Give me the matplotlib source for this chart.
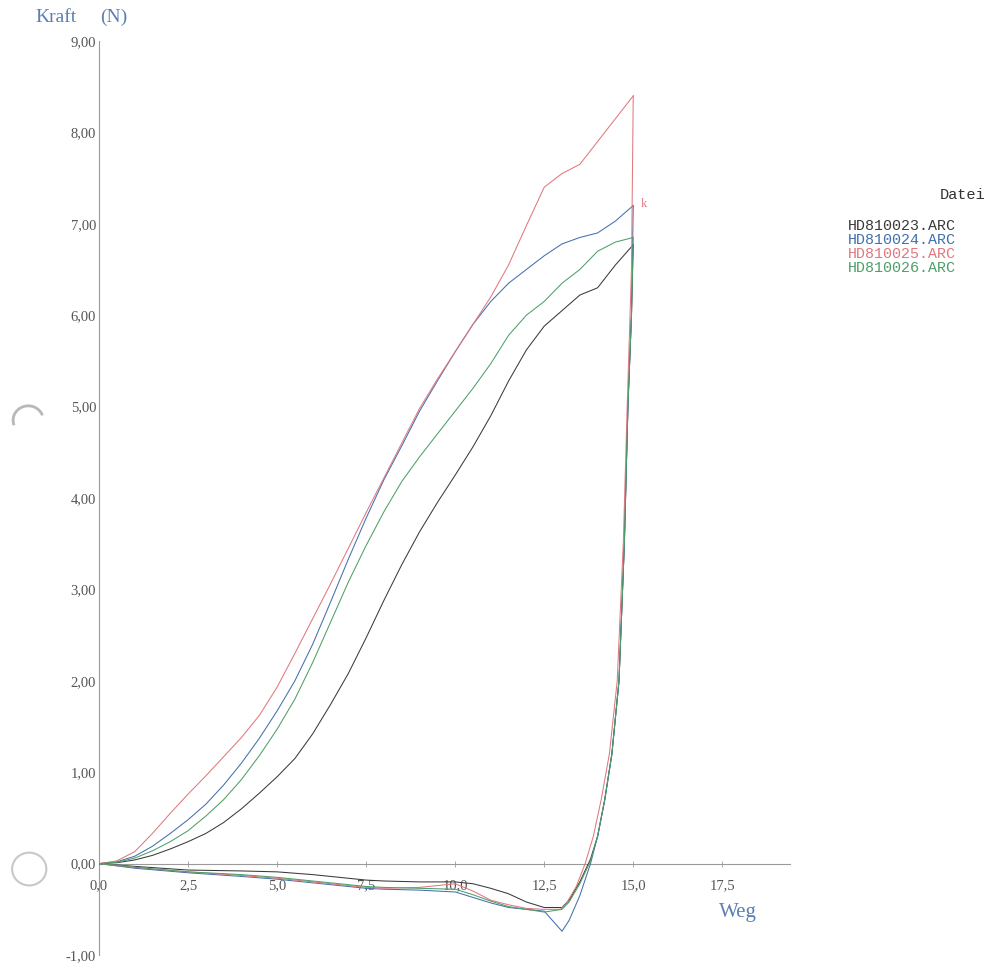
import matplotlib.pyplot as plt
from matplotlib.patches import Circle, Arc

# ------------------------------------------------------------
# Daten (Kraft in N ueber Weg), aus dem Ausdruck abgelesen
# ------------------------------------------------------------
dateien = ['HD810023.ARC', 'HD810024.ARC', 'HD810025.ARC', 'HD810026.ARC']
farben = ['#3a3a3a', '#4270ad', '#e0787e', '#4f9e68']

# Belastung (Weg 0 -> 15)
weg_last = [0, 0.5, 1, 1.5, 2, 2.5, 3, 3.5, 4, 4.5, 5, 5.5, 6, 6.5, 7, 7.5,
            8, 8.5, 9, 9.5, 10, 10.5, 11, 11.5, 12, 12.5, 13, 13.5, 14, 14.5, 15]
kraft_023 = [0, 0.01, 0.04, 0.09, 0.16, 0.24, 0.33, 0.45, 0.6, 0.77, 0.95, 1.15,
             1.42, 1.74, 2.08, 2.47, 2.88, 3.27, 3.63, 3.95, 4.25, 4.56, 4.9, 5.28,
             5.62, 5.88, 6.05, 6.22, 6.3, 6.55, 6.77]
kraft_024 = [0, 0.02, 0.08, 0.19, 0.33, 0.48, 0.65, 0.86, 1.1, 1.37, 1.67, 2.0,
             2.4, 2.86, 3.33, 3.78, 4.2, 4.57, 4.95, 5.28, 5.6, 5.9, 6.15, 6.35,
             6.5, 6.65, 6.78, 6.85, 6.9, 7.03, 7.2]
kraft_025 = [0, 0.03, 0.13, 0.33, 0.55, 0.76, 0.96, 1.17, 1.38, 1.62, 1.93, 2.3,
             2.68, 3.06, 3.45, 3.84, 4.22, 4.6, 4.98, 5.3, 5.6, 5.9, 6.2, 6.55,
             6.98, 7.4, 7.55, 7.65, 7.9, 8.15, 8.4]
kraft_026 = [0, 0.015, 0.06, 0.14, 0.24, 0.36, 0.52, 0.7, 0.92, 1.18, 1.47, 1.8,
             2.2, 2.64, 3.08, 3.48, 3.85, 4.18, 4.45, 4.7, 4.95, 5.2, 5.47, 5.78,
             6.0, 6.15, 6.35, 6.5, 6.7, 6.8, 6.85]

# Entlastung (Weg 15 -> 0)
weg_ent = [15, 14.95, 14.85, 14.75, 14.6, 14.4, 14.2, 14.0, 13.8, 13.5, 13.2,
           13.0, 12.5, 12, 11.5, 11, 10.5, 10, 9, 8, 7.5, 6, 5, 4, 2.5, 1, 0]
weg_ent_025 = [15, 14.95, 14.83, 14.72, 14.55, 14.33, 14.1, 13.88, 13.65, 13.4, 13.1,
               12.95, 12.5, 12, 11.5, 11, 10.5, 10, 9, 8, 7.5, 6, 5, 4, 2.5, 1, 0]
ent_023 = [6.77, 6.0, 5.0, 3.5, 2.0, 1.2, 0.7, 0.3, 0.05, -0.2, -0.4,
           -0.48, -0.48, -0.42, -0.33, -0.27, -0.22, -0.2, -0.2, -0.19, -0.18,
           -0.12, -0.09, -0.08, -0.07, -0.03, 0]
ent_024 = [7.2, 6.0, 5.0, 3.5, 2.0, 1.2, 0.7, 0.3, 0.0, -0.35, -0.62,
           -0.74, -0.52, -0.5, -0.48, -0.43, -0.37, -0.31, -0.29, -0.28, -0.27,
           -0.21, -0.17, -0.14, -0.1, -0.05, 0]
ent_025 = [8.4, 6.5, 5.0, 3.5, 2.0, 1.2, 0.7, 0.3, 0.0, -0.25, -0.45,
           -0.5, -0.5, -0.49, -0.45, -0.4, -0.3, -0.22, -0.26, -0.27, -0.26,
           -0.2, -0.16, -0.13, -0.09, -0.04, 0]
ent_026 = [6.85, 6.0, 5.0, 3.5, 2.0, 1.2, 0.7, 0.3, 0.03, -0.22, -0.42,
           -0.5, -0.53, -0.5, -0.47, -0.41, -0.34, -0.28, -0.27, -0.26, -0.25,
           -0.19, -0.15, -0.12, -0.09, -0.04, 0]

belastung = [kraft_023, kraft_024, kraft_025, kraft_026]
entlastung = [(weg_ent, ent_023), (weg_ent, ent_024),
              (weg_ent_025, ent_025), (weg_ent, ent_026)]

x_ticks = [0, 2.5, 5, 7.5, 10, 12.5, 15, 17.5]
y_ticks = [-1, 0, 1, 2, 3, 4, 5, 6, 7, 8, 9]

# ------------------------------------------------------------
# Figur
# ------------------------------------------------------------
fig = plt.figure(figsize=(10.08, 9.64), dpi=100)
ax = fig.add_axes([0.0982, 0.0093, 0.6855, 0.9482])

for i in range(len(dateien)):
    ax.plot(weg_last, belastung[i], color=farben[i], linewidth=0.75, zorder=3)
    wx, wy = entlastung[i]
    ax.plot(wx, wy, color=farben[i], linewidth=0.75, zorder=3)

ax.set_xlim(0, 19.4)
ax.set_ylim(-1, 9)

# Achsen wie im Ausdruck: durch den Nullpunkt
ax.spines['left'].set_position(('data', 0))
ax.spines['bottom'].set_position(('data', 0))
ax.spines['right'].set_visible(False)
ax.spines['top'].set_visible(False)
ax.spines['left'].set_color('#9a9a9a')
ax.spines['bottom'].set_color('#9a9a9a')
ax.spines['left'].set_linewidth(0.8)
ax.spines['bottom'].set_linewidth(0.8)

ax.set_xticks(x_ticks)
ax.set_xticklabels([f'{v:.1f}'.replace('.', ',') for v in x_ticks])
ax.set_yticks(y_ticks)
ax.set_yticklabels([f'{v:.2f}'.replace('.', ',') for v in y_ticks])

ax.tick_params(axis='x', direction='inout', length=5, width=0.6, color='#9a9a9a',
               pad=9, labelsize=10.5, labelcolor='#555555')
ax.tick_params(axis='y', direction='in', length=0, pad=2,
               labelsize=10.5, labelcolor='#555555')
for lbl in ax.get_xticklabels() + ax.get_yticklabels():
    lbl.set_fontfamily('Liberation Serif')

# Achsentitel
blau = '#5b7fb3'
fig.text(0.035, 0.982, 'Kraft', color=blau, fontsize=14,
         family='Liberation Serif', va='center')
fig.text(0.099, 0.982, '(N)', color=blau, fontsize=14,
         family='Liberation Serif', va='center')
ax.text(17.42, -0.53, 'Weg', color=blau, fontsize=15,
        family='Liberation Serif', va='center', ha='left')

# Markierung am Ende
ax.text(15.2, 7.22, 'k', color=farben[2], fontsize=9,
        family='Liberation Serif', va='center')

# Legende (Dateien)
fig.text(0.932, 0.7977, 'Datei', color='#333333', fontsize=11,
         family='Liberation Mono', va='center')
for i, name in enumerate(dateien):
    fig.text(0.841, 0.7656 - i * 0.0145, name, color=farben[i], fontsize=10.8,
             family='Liberation Mono', va='center')

# Lochung des Papiers
fig.add_artist(Circle((0.029, 0.0985), 0.017, transform=fig.transFigure,
                      facecolor='white', edgecolor='#c8c8c8', linewidth=1.5))
fig.add_artist(Arc((0.028, 0.564), 0.03, 0.03, theta1=20, theta2=200,
                   transform=fig.transFigure, edgecolor='#b8b8b8', linewidth=2))

fig.savefig('out.png', dpi=100, facecolor='white')
